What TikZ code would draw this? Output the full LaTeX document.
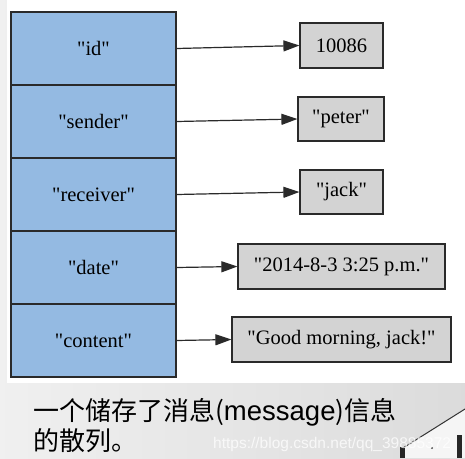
\documentclass[tikz,border=0pt]{standalone}
\usepackage{fontspec}
\setmainfont{Liberation Serif}
\newfontfamily\capcjk{Noto Sans CJK SC}
\newfontfamily\capsans{Liberation Sans}
\usetikzlibrary{arrows.meta,shadings}
\definecolor{cellblue}{HTML}{94BAE2}
\definecolor{boxgray}{HTML}{D3D3D3}
\definecolor{edgec}{HTML}{2A2A2A}
\newcommand{\qq}[1]{\textquotedbl#1\textquotedbl}
\begin{document}
\begin{tikzpicture}[x=1pt,y=-1pt,
  cell/.style={draw=edgec,line width=1.2pt,fill=cellblue,minimum width=165pt,minimum height=73pt,inner sep=0pt,font=\fontsize{20.5}{24}\selectfont},
  valbox/.style={draw=edgec,line width=1.2pt,fill=boxgray,minimum height=45pt,inner sep=0pt,font=\fontsize{20.5}{24}\selectfont},
  link/.style={draw=edgec,line width=1.2pt,-{Triangle[length=16pt,width=11pt]}},
  captxt/.style={anchor=base west,inner sep=0pt,font=\capcjk\fontsize{26}{30}\selectfont}]
\useasboundingbox (0,0) rectangle (465,458);
% background
\shade[left color=gray!12,right color=gray!28] (0,0) rectangle (465,458);
\fill[white] (7,0) rectangle (465,383);
% monitor corner
\fill[gray!8] (403,458) -- (403,448) -- (465,409) -- (465,458) -- cycle;
\draw[black!80,line width=1pt] (403,448) -- (465,409);
\fill[black!85] (400,447) rectangle (405,458);
\fill[black!85] (457,435) rectangle (462,458);
\fill[black!70] (432,448) circle (1.2pt);
% cells
\node[cell] (id) at (93.5,48.5) {\qq{id}};
\node[cell] (sender) at (93.5,121.5) {\qq{sender}};
\node[cell] (receiver) at (93.5,194.5) {\qq{receiver}};
\node[cell] (date) at (93.5,267.5) {\qq{date}};
\node[cell] (content) at (93.5,340.5) {\qq{content}};
% values
\node[valbox,minimum width=83pt] (v1) at (341.5,45.5) {10086};
\node[valbox,minimum width=86pt,minimum height=44pt] (v2) at (341,119) {\qq{peter}};
\node[valbox,minimum width=83pt,minimum height=44pt] (v3) at (341.5,192) {\qq{jack}};
\node[valbox,minimum width=207pt] (v4) at (341.5,266.5) {\qq{2014-8-3 3:25 p.m.}};
\node[valbox,minimum width=219pt] (v5) at (341.5,339.5) {\qq{Good morning, jack!}};
% links
\draw[link] (id.east) -- (v1.west);
\draw[link] (sender.east) -- (v2.west);
\draw[link] (receiver.east) -- (v3.west);
\draw[link] (date.east) -- (v4.west);
\draw[link] (content.east) -- (v5.west);
% caption
\node[captxt] (cap1) at (33,420) {一个储存了消息({\capsans\fontsize{27.5}{30}\selectfont message})信息};
\node[captxt] (cap2) at (33,450) {的散列。};
\node[anchor=base west,inner sep=0pt,text=white,opacity=0.75,font=\capsans\fontsize{15.5}{18}\selectfont] (wm) at (213,448) {https://blog.csdn.net/qq\_39885372};
\end{tikzpicture}
\end{document}
